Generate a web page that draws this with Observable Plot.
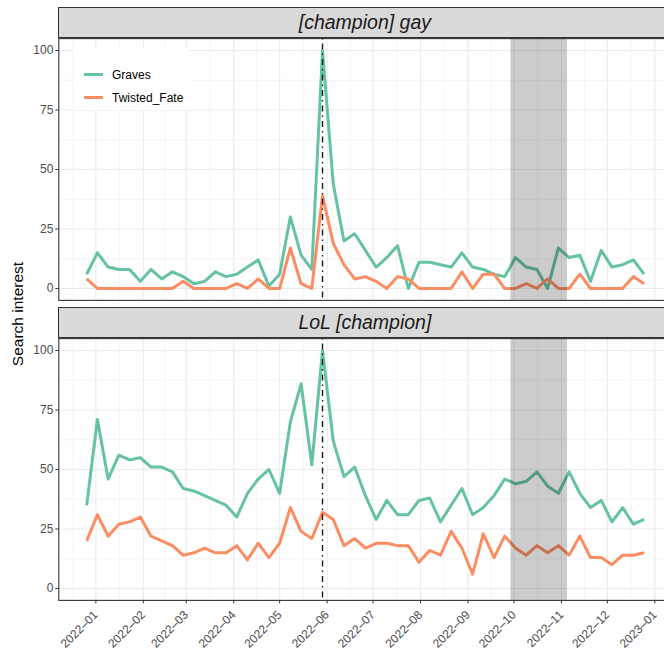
<!DOCTYPE html>
<html><head><meta charset="utf-8">
<script src="https://cdn.jsdelivr.net/npm/d3@7"></script>
<script src="https://cdn.jsdelivr.net/npm/@observablehq/plot@0.6"></script>
<style>
body{margin:0;background:#fff;}
#wrap{position:relative;width:664px;height:651px;overflow:hidden;font-family:"Liberation Sans",Arial,sans-serif;background:#fff;}
.strip{position:absolute;left:58.3px;width:613.2px;height:30.4px;background:#D9D9D9;border:1.1px solid #333;box-sizing:border-box;display:flex;align-items:center;justify-content:center;font-style:italic;font-size:19.5px;color:#1A1A1A;}
.panel{position:absolute;left:0;max-width:none !important;}
#ytitle{position:absolute;left:18px;top:314px;transform:translate(-50%,-50%) rotate(-90deg);font-size:15.5px;color:#000;white-space:nowrap;}
#legend{position:absolute;left:73.5px;top:48.3px;width:115.5px;height:61.7px;background:#fff;}
.key{position:absolute;left:10.5px;width:18.5px;height:3px;}
.lab{position:absolute;left:38.5px;font-size:12px;color:#000;line-height:14px;}
</style>
</head><body>
<div id="wrap">
  <div id="ytitle">Search interest</div>
</div>
<script>
// ---- data ----
const startWeek = "2021-12-26";          // first weekly observation (Sundays)
const seriesNames = ["Graves", "Twisted_Fate"];
const seriesColors = ["#66C2A5", "#FC8D62"];
const facetTitles = ["[champion] gay", "LoL [champion]"];
const gravesGay  = [6,15,9,8,8,3,8,4,7,5,2,3,7,5,6,9,12,1,6,30,14,8,100,44,20,23,16,9,13,18,0,11,11,10,9,15,9,8,6,5,13,9,8,0,17,13,14,3,16,9,10,12,6];
const twistedGay = [4,0,0,0,0,0,0,0,0,3,0,0,0,0,2,0,4,0,0,17,2,0,39,19,10,4,5,3,0,5,4,0,0,0,0,7,0,6,6,0,0,2,0,4,0,0,6,0,0,0,0,5,2];
const gravesLol  = [35,71,46,56,54,55,51,51,49,42,41,39,37,35,30,40,46,50,40,70,86,52,100,62,47,51,39,29,37,31,31,37,38,28,35,42,31,34,39,46,44,45,49,43,40,49,40,34,37,28,34,27,29];
const twistedLol = [20,31,22,27,28,30,22,20,18,14,15,17,15,15,18,12,19,13,19,34,24,21,32,29,18,21,17,19,19,18,18,11,16,14,24,17,6,23,13,22,17,14,18,15,18,14,22,13,13,10,14,14,15];
const vlineDate = "2022-05-29";
const shadeStart = "2022-09-29";
const shadeEnd = "2022-11-05";
const yTicks = [0, 25, 50, 75, 100];

// ---- build ----
const parse = d3.utcParse("%Y-%m-%d");
const dates = gravesGay.map((_, i) => d3.utcDay.offset(parse(startWeek), 7 * i));
function tidy(a, b) {
  return [...a.map((v, i) => ({date: dates[i], value: v, series: seriesNames[0]})),
          ...b.map((v, i) => ({date: dates[i], value: v, series: seriesNames[1]}))];
}
const panels = [tidy(gravesGay, twistedGay), tidy(gravesLol, twistedLol)];

const dmin = dates[0], dmax = dates[dates.length - 1];
const span = dmax - dmin;
const xDomain = [new Date(+dmin - 0.05 * span), new Date(+dmax + 0.05 * span)];
const months = d3.utcMonth.range(d3.utcMonth.floor(xDomain[0]), d3.utcMonth.offset(xDomain[1], 1));
const majorX = months.filter(d => d >= xDomain[0] && d <= xDomain[1]);
const minorX = months.slice(0, -1).map((d, i) => new Date((+d + +months[i + 1]) / 2)).filter(d => d >= xDomain[0] && d <= xDomain[1]);
const minorY = [12.5, 37.5, 62.5, 87.5];

const fmt = d3.utcFormat("%Y");
const fmtM = d3.utcFormat("%m");

function makePanel(data, bottom) {
  const marginTop = 8.1, plotH = 261.8, marginBottom = bottom ? 51 : 4;
  const marks = [
    Plot.gridX(minorX, {stroke: "#EBEBEB", strokeOpacity: 1, strokeWidth: 0.55}),
    Plot.gridY(minorY, {stroke: "#EBEBEB", strokeOpacity: 1, strokeWidth: 0.55}),
    Plot.gridX(majorX, {stroke: "#EBEBEB", strokeOpacity: 1, strokeWidth: 1.1}),
    Plot.gridY(yTicks, {stroke: "#EBEBEB", strokeOpacity: 1, strokeWidth: 1.1}),
    Plot.line(data, {x: "date", y: "value", z: "series", stroke: "series", strokeWidth: 3, strokeLinejoin: "round", strokeLinecap: "butt"}),
    Plot.rect([{a: parse(shadeStart), b: parse(shadeEnd)}], {x1: "a", x2: "b", fill: "black", fillOpacity: 0.2}),
    Plot.ruleX([parse(vlineDate)], {stroke: "#1A1A1A", strokeWidth: 1.4, strokeDasharray: "1.5,4,6,4"}),
    Plot.frame({stroke: "#333333", strokeWidth: 1.1}),
    Plot.axisY({ticks: yTicks, tickSize: 3, tickPadding: 2.5, label: null, stroke: "#333333", fill: "#4D4D4D", fontSize: 12})
  ];
  if (bottom) {
    marks.push(Plot.axisX({ticks: majorX, tickFormat: d => fmt(d) + "\u2013" + fmtM(d), tickRotate: -45, tickSize: 3.5, tickPadding: 9, label: null, stroke: "#333333", fill: "#4D4D4D", fontSize: 12}));
  }
  return Plot.plot({
    width: 675,
    height: marginTop + plotH + marginBottom,
    marginLeft: 58.3, marginRight: 3.5, marginTop, marginBottom,
    style: {fontFamily: "Liberation Sans, Arial, sans-serif", fontSize: "12px", background: "transparent", overflow: "visible", maxWidth: "none"},
    x: {type: "utc", domain: xDomain, axis: bottom ? undefined : null},
    y: {domain: [-5, 105]},
    color: {domain: seriesNames, range: seriesColors},
    marks
  });
}

const wrap = document.getElementById("wrap");
const tops = [30, 330];
const stripTops = [7.3, 307.3];
panels.forEach((data, k) => {
  const s = makePanel(data, k === 1);
  s.classList.add("panel");
  s.style.top = tops[k] + "px";
  s.style.maxWidth = "none";
  wrap.appendChild(s);
  const st = document.createElement("div");
  st.className = "strip";
  st.style.top = stripTops[k] + "px";
  st.textContent = facetTitles[k];
  wrap.appendChild(st);
});

// legend
const lg = document.createElement("div");
lg.id = "legend";
seriesNames.forEach((n, i) => {
  const yc = [26.4, 49.7][i];
  const key = document.createElement("div");
  key.className = "key";
  key.style.top = (yc - 1.5) + "px";
  key.style.background = seriesColors[i];
  lg.appendChild(key);
  const t = document.createElement("div");
  t.className = "lab";
  t.style.top = (yc - 7) + "px";
  t.textContent = n;
  lg.appendChild(t);
});
wrap.appendChild(lg);
</script>
</body></html>
